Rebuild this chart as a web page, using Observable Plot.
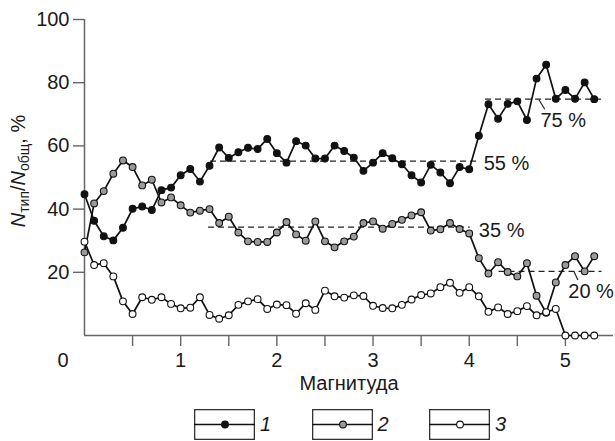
<!DOCTYPE html>
<html>
<head>
<meta charset="utf-8">
<script src="https://cdn.jsdelivr.net/npm/d3@7"></script>
<script src="https://cdn.jsdelivr.net/npm/@observablehq/plot@0.6"></script>
<style>
  body { margin: 0; background: #fff; font-family: "Liberation Sans", Arial, sans-serif; color: #1a1a1a; }
  #wrap { width: 615px; }
  .legend { position: relative; height: 32px; margin-top: 4px; }
  .item { position: absolute; top: 0; display: flex; align-items: center; }
  .item span { font-style: italic; font-size: 20px; margin-left: 5px; line-height: 31px; }
</style>
</head>
<body>
<div id="wrap"></div>
<script>
// ---- data ----
const magnitude = [0,0.1,0.2,0.3,0.4,0.5,0.6,0.7,0.8,0.9,1.0,1.1,1.2,1.3,1.4,1.5,1.6,1.7,1.8,1.9,
  2.0,2.1,2.2,2.3,2.4,2.5,2.6,2.7,2.8,2.9,3.0,3.1,3.2,3.3,3.4,3.5,3.6,3.7,3.8,3.9,
  4.0,4.1,4.2,4.3,4.4,4.5,4.6,4.7,4.8,4.9,5.0,5.1,5.2,5.3];
const series1 = [44.7,36.3,31.4,30.1,34.1,40.1,40.8,39.7,46.0,46.8,50.7,52.7,48.7,53.7,59.5,56.2,58.0,59.4,59.0,62.2,
  57.7,54.7,61.5,60.1,56.0,56.0,60.1,58.4,56.3,52.1,54.7,57.7,56.1,54.2,50.7,48.4,54.0,51.6,48.2,53.3,
  52.6,63.2,73.2,68.6,73.3,74.1,68.2,81.3,85.7,74.9,77.7,74.9,80.1,74.8];
const series2 = [26.3,41.8,45.7,51.2,55.4,53.3,47.5,49.3,42.1,43.7,41.2,38.9,39.5,40.0,35.6,37.6,32.6,29.8,29.6,29.6,
  32.6,35.9,32.0,30.0,36.1,29.8,27.9,29.8,31.3,35.6,36.1,33.8,35.3,36.6,38.0,39.0,33.2,33.6,35.6,33.7,
  32.3,24.5,19.6,23.2,20.1,18.7,22.9,12.6,7.2,16.8,22.3,25.1,20.3,25.1];
const series3 = [29.7,22.3,22.9,18.7,10.8,6.8,12.1,11.3,12.1,10.0,8.6,8.8,12.1,6.5,5.3,6.4,9.7,10.8,11.5,8.4,
  9.8,9.6,6.9,10.2,8.1,14.2,12.4,12.0,12.7,12.5,9.4,8.7,8.6,9.7,11.4,12.8,13.3,15.3,16.7,13.5,
  15.3,12.4,7.5,8.9,6.8,7.7,9.3,6.4,7.4,8.4,0,0,0,0];
const seriesNames = ["1", "2", "3"];
const seriesFill = ["#111111", "#9a9a9a", "#ffffff"];

const xTicks = [0.5,1,1.5,2,2.5,3,3.5,4,4.5,5];
const yTicks = [20,40,60,80,100];
const xLabel = "Магнитуда";
const originLabel = "0";

// reference levels (dashed)
const levelValue = [55.2, 34.3, 74.8, 20.3];
const levelStart = [1.31, 1.29, 4.17, 4.31];
const levelEnd   = [4.10, 4.01, 5.38, 5.38];
const levelText  = ["55 %", "35 %", "75 %", "20 %"];
const levelTextX = [4.15, 4.10, 4.74, 5.03];
const levelTextY = [54.4, 33.3, 68.0, 13.8];
// leader strokes for 75 % and 20 %
const leaderX1 = [4.725, 5.09];
const leaderY1 = [74.6, 20.2];
const leaderX2 = [4.785, 5.13];
const leaderY2 = [71.6, 17.6];

// ---- tables built from the arrays ----
const allSeries = [series1, series2, series3];
const rows = allSeries.flatMap((s, k) => magnitude.map((m, i) => ({m, v: s[i], s: seriesNames[k]})));
const levels = levelValue.map((v, i) => ({v, a: levelStart[i], b: levelEnd[i]}));
const levelLabels = levelText.map((t, i) => ({t, x: levelTextX[i], y: levelTextY[i]}));
const leaders = leaderX1.map((x, i) => ({x1: x, y1: leaderY1[i], x2: leaderX2[i], y2: leaderY2[i]}));

const FS = 20;
const axisGray = "#666";

const marks = [
  Plot.ruleY([0], {stroke: axisGray, strokeWidth: 1.5}),
  Plot.ruleX([0], {stroke: axisGray, strokeWidth: 1.5}),
  Plot.axisX(xTicks, {tickSize: 11, tickPadding: 6, fontSize: FS, stroke: axisGray, strokeWidth: 1.4,
    tickFormat: d => Number.isInteger(d) ? String(d) : "", label: null}),
  Plot.axisY(yTicks, {tickSize: 11, tickPadding: 4, fontSize: FS, stroke: axisGray, strokeWidth: 1.4, label: null}),
  Plot.ruleY(levels, {y: "v", x1: "a", x2: "b", stroke: "#222", strokeWidth: 1.3, strokeDasharray: "6,4"}),
  Plot.link(leaders, {x1: "x1", y1: "y1", x2: "x2", y2: "y2", stroke: "#222", strokeWidth: 1.2}),
  Plot.line(rows, {x: "m", y: "v", z: "s", stroke: "#111", strokeWidth: 1.7}),
  ...seriesNames.map((n, k) => Plot.dot(rows.filter(d => d.s === n),
      {x: "m", y: "v", r: 3.4, fill: seriesFill[k], stroke: "#111", strokeWidth: 1.1})),
  Plot.text(levelLabels, {x: "x", y: "y", text: "t", textAnchor: "start", lineAnchor: "middle", fontSize: FS}),
  Plot.text([originLabel], {x: () => 0, y: () => 0, text: d => d, dx: -21.5, dy: 17, lineAnchor: "top", fontSize: FS}),
  Plot.text([xLabel], {frameAnchor: "bottom", text: d => d, dy: 48, lineAnchor: "middle", fontSize: FS})
];

const svg = Plot.plot({
  width: 615,
  height: 405,
  marginLeft: 84,
  marginRight: 2,
  marginTop: 19,
  marginBottom: 70,
  x: {domain: [0, 5.5]},
  y: {domain: [0, 100]},
  style: {fontFamily: '"Liberation Sans", Arial, sans-serif', color: "#1a1a1a", background: "#fff", overflow: "visible"},
  marks
});

// y-axis title with italic N and subscripts
const t = d3.select(svg).append("text")
  .attr("transform", "translate(25,171) rotate(-90)")
  .attr("text-anchor", "middle")
  .attr("font-size", FS)
  .attr("fill", "#1a1a1a");
t.append("tspan").attr("font-style", "italic").text("N");
t.append("tspan").attr("font-size", 14).attr("dy", "0.3em").text("тип");
t.append("tspan").attr("dy", "-0.21em").text("/");
t.append("tspan").attr("font-style", "italic").text("N");
t.append("tspan").attr("font-size", 14).attr("dy", "0.3em").text("общ");
t.append("tspan").attr("dy", "-0.21em").text(", %");

const wrap = document.getElementById("wrap");
wrap.appendChild(svg);

// legend
const legend = document.createElement("div");
legend.className = "legend";
const legendLeft = [194, 311.5, 429];
seriesNames.forEach((n, k) => {
  const item = document.createElement("div");
  item.className = "item";
  item.style.left = legendLeft[k] + "px";
  const s = d3.create("svg").attr("width", 61).attr("height", 31);
  s.append("rect").attr("x", 0.65).attr("y", 0.65).attr("width", 59.7).attr("height", 29.7)
    .attr("fill", "none").attr("stroke", "#333").attr("stroke-width", 1.3);
  s.append("line").attr("x1", 0).attr("x2", 61).attr("y1", 15.5).attr("y2", 15.5)
    .attr("stroke", "#111").attr("stroke-width", 1.4);
  s.append("circle").attr("cx", 31).attr("cy", 15.5).attr("r", 3.4)
    .attr("fill", seriesFill[k]).attr("stroke", "#111").attr("stroke-width", 1.1);
  item.appendChild(s.node());
  const lab = document.createElement("span");
  lab.textContent = n;
  item.appendChild(lab);
  legend.appendChild(item);
});
wrap.appendChild(legend);
</script>
</body>
</html>
